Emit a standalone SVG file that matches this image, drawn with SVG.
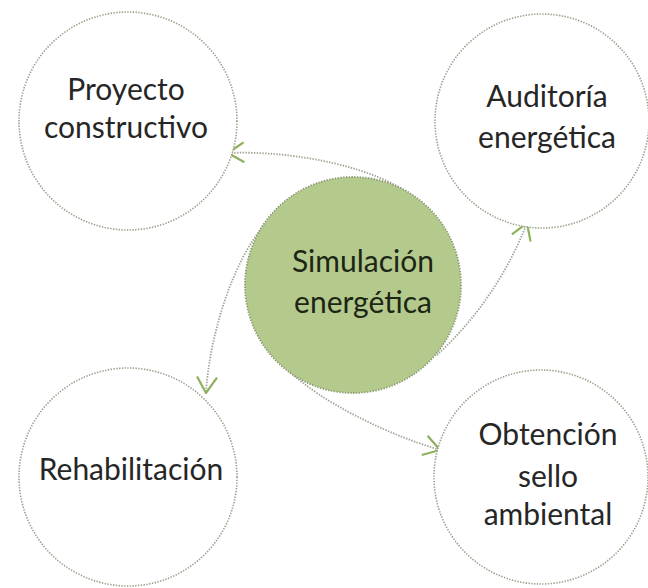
<svg xmlns="http://www.w3.org/2000/svg" width="648" height="588" viewBox="0 0 648 588">
<style>
.ring{fill:#ffffff;stroke:#9aa18b;stroke-width:1.6;stroke-dasharray:1.4 1.4}
.core{fill:#b4ca8d;stroke:#8c9a74;stroke-width:1.8;stroke-dasharray:1.4 1.4}
.lbl{font-family:Lato,"Open Sans","DejaVu Sans",sans-serif;font-size:30px;fill:#262626;text-anchor:middle}
.lblc{font-family:Lato,"Open Sans","DejaVu Sans",sans-serif;font-size:30px;fill:#1d2614;text-anchor:middle}
.conn{fill:none;stroke:#9ea391;stroke-width:1.8;stroke-dasharray:1.4 1.4}
</style>
<defs>
<marker id="arr" viewBox="0 0 18 22" refX="17" refY="11" markerWidth="18" markerHeight="22" markerUnits="userSpaceOnUse" orient="auto">
<path d="M1,1 L17,11 L1,21" fill="none" stroke="#8db15e" stroke-width="2.2"/>
</marker>
</defs>
<rect width="648" height="588" fill="#ffffff"/>
<g id="connectors">
<path class="conn" d="M410,195 C380,170 300,150 228,153" marker-end="url(#arr)"/>
<path class="conn" d="M437,355 C470,325 505,280 527,223" marker-end="url(#arr)"/>
<path class="conn" d="M262,228 C235,260 210,330 206,393" marker-end="url(#arr)"/>
<path class="conn" d="M290,372 C320,400 380,432 440,450" marker-end="url(#arr)"/>
</g>
<g id="proyecto">
<circle class="ring" cx="128" cy="121" r="109"/>
<text class="lbl" x="126" y="100">Proyecto</text>
<text class="lbl" x="126" y="138">constructivo</text>
</g>
<g id="auditoria">
<circle class="ring" cx="542" cy="121" r="107"/>
<text class="lbl" x="547" y="107">Auditoría</text>
<text class="lbl" x="547" y="148">energética</text>
</g>
<g id="rehabilitacion">
<circle class="ring" cx="128" cy="477" r="109"/>
<text class="lbl" x="131" y="480">Rehabilitación</text>
</g>
<g id="obtencion">
<circle class="ring" cx="541" cy="477" r="107"/>
<text class="lbl" x="548" y="445">Obtención</text>
<text class="lbl" x="548" y="487">sello</text>
<text class="lbl" x="548" y="525">ambiental</text>
</g>
<g id="simulacion">
<circle class="core" cx="353" cy="285" r="108"/>
<text class="lblc" x="363" y="272">Simulación</text>
<text class="lblc" x="363" y="313">energética</text>
</g>
</svg>
